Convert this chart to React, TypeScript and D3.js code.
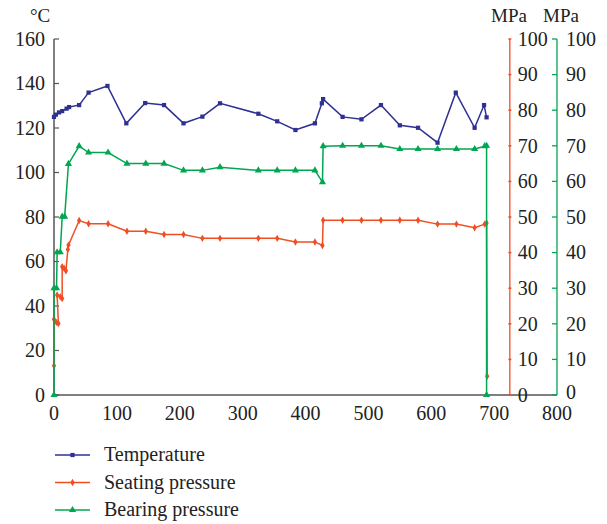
import React from 'react';
import * as d3 from 'd3';

// time axis values
const tempX = [0, 3, 8, 13, 20, 24, 40, 55, 85, 115, 145, 175, 206, 236, 264, 325, 355, 384, 415, 426, 428, 459, 489, 520, 550, 579, 610, 639, 669, 684, 688];
const tempY = [125, 126, 127, 127.6, 128.7, 129.4, 130.3, 135.9, 138.9, 122.1, 131.2, 130.3, 122.1, 125.1, 131.1, 126.4, 123, 119.1, 122.1, 131.1, 133, 125, 123.9, 130.3, 121.2, 120.1, 113.4, 135.9, 120.1, 130.3, 124.8];

const seatX = [0, 0, 4, 7, 5, 10, 13, 13, 16, 19, 22, 23, 40, 55, 86, 116, 146, 175, 206, 236, 264, 325, 355, 384, 415, 427, 428, 459, 489, 520, 550, 579, 610, 640, 669, 685, 688, 689];
const seatY = [8.2, 21.3, 20.4, 20.1, 28.1, 27.6, 27.1, 36.0, 35.6, 34.9, 40.9, 42.1, 49.0, 48.1, 48.1, 46.0, 46.0, 45.1, 45.1, 44.0, 44.0, 44.0, 44.0, 43.0, 43.0, 42.0, 49.1, 49.1, 49.1, 49.1, 49.1, 49.1, 48.0, 48.0, 47.0, 48.0, 48.3, 5.3];

const bearX = [0, 0, 4, 5, 10, 13, 17, 23, 40, 55, 86, 116, 146, 175, 206, 236, 264, 325, 355, 384, 415, 427, 428, 459, 489, 520, 550, 579, 610, 640, 669, 685, 688, 688];
const bearY = [0, 30, 30, 40.1, 40.1, 50.1, 50.1, 64.9, 69.9, 68.1, 68.1, 65, 65, 65, 63.1, 63.1, 64, 63.1, 63.1, 63.1, 63.1, 59.8, 69.9, 70, 70, 70, 69.1, 69.1, 69.1, 69.1, 69.1, 69.9, 70, 0];

const xTicks = [0, 100, 200, 300, 400, 500, 600, 700, 800];
const tempTicks = [0, 20, 40, 60, 80, 100, 120, 140, 160];
const mpaTicks = [0, 10, 20, 30, 40, 50, 60, 70, 80, 90, 100];
const redAxisAt = 725;

const BLUE = '#2e3192';
const RED = '#f04e23';
const GREEN = '#00a651';
const AXIS = '#555';
const FONT = "'Liberation Serif', 'Times New Roman', serif";

const App = () => {
  const x = d3.scaleLinear().domain([0, 800]).range([54, 557]);
  const yT = d3.scaleLinear().domain([0, 160]).range([395, 39]);
  const yP = d3.scaleLinear().domain([0, 100]).range([395, 39]);

  const line = d3.line<[number, number]>().x(d => d[0]).y(d => d[1]);

  const series = [
    { name: 'Temperature', color: BLUE, sym: d3.symbolSquare, size: 18, pts: tempX.map((v, i) => [x(v), yT(tempY[i])] as [number, number]) },
    { name: 'Seating pressure', color: RED, sym: d3.symbolDiamond, size: 16, pts: seatX.map((v, i) => [x(v), yP(seatY[i])] as [number, number]) },
    { name: 'Bearing pressure', color: GREEN, sym: d3.symbolTriangle, size: 22, pts: bearX.map((v, i) => [x(v), yP(bearY[i])] as [number, number]) },
  ];

  const [x0, x1] = x.range();
  const redX = x(redAxisAt);

  return (
    <svg width={607} height={524} style={{ position: 'absolute', left: 0, top: 0, background: '#fff' }}
      fontFamily={FONT} fontSize={20} fill="#222">
      {/* titles */}
      <text x={30} y={22} fontSize={19}>°C</text>
      <text x={491} y={22} fontSize={19}>MPa</text>
      <text x={543} y={22} fontSize={19}>MPa</text>

      {/* left axis */}
      <line x1={x0} x2={x0} y1={yT(160)} y2={yT(0)} stroke={AXIS} strokeWidth={1.5} />
      {tempTicks.map(t => (
        <g key={t}>
          <line x1={x0} x2={x0 + 5} y1={yT(t)} y2={yT(t)} stroke={AXIS} strokeWidth={1.2} />
          <text x={x0 - 9} y={yT(t)} dy="0.34em" textAnchor="end">{t}</text>
        </g>
      ))}

      {/* bottom axis */}
      <line x1={x0} x2={x1} y1={yT(0)} y2={yT(0)} stroke={AXIS} strokeWidth={1.5} />
      {xTicks.map(t => (
        <text key={t} x={x(t)} y={yT(0) + 25} textAnchor="middle">{t}</text>
      ))}

      {/* seating pressure axis */}
      <line x1={redX} x2={redX} y1={yP(100)} y2={yP(0)} stroke={RED} strokeWidth={1.3} />
      {mpaTicks.map(t => (
        <g key={t}>
          <line x1={redX - 1.5} x2={redX + 1.5} y1={yP(t)} y2={yP(t)} stroke={RED} strokeWidth={1.5} />
          <text x={redX + 8} y={yP(t)} dy="0.34em">{t}</text>
        </g>
      ))}

      {/* bearing pressure axis */}
      <line x1={x1} x2={x1} y1={yP(100)} y2={yP(0)} stroke={GREEN} strokeWidth={1.3} />
      {mpaTicks.map(t => (
        <g key={t}>
          <line x1={x1 - 5} x2={x1} y1={yP(t)} y2={yP(t)} stroke={GREEN} strokeWidth={1.3} />
          <text x={x1 + 9} y={yP(t)} dy={t === 0 ? '0.2em' : '0.34em'}>{t}</text>
        </g>
      ))}

      {/* series */}
      {series.map(s => (
        <g key={s.name}>
          <path d={line(s.pts) ?? ''} fill="none" stroke={s.color} strokeWidth={1.5} />
          {s.pts.map((p, i) => (
            <path key={i} d={d3.symbol().type(s.sym).size(s.size)() ?? ''}
              transform={`translate(${p[0]},${p[1]})`} fill={s.color} />
          ))}
        </g>
      ))}

      {/* legend */}
      {series.map((s, i) => {
        const ly = 455 + i * 27.5;
        return (
          <g key={s.name}>
            <line x1={55} x2={90} y1={ly} y2={ly} stroke={s.color} strokeWidth={1.5} />
            <path d={d3.symbol().type(s.sym).size(s.size)() ?? ''} transform={`translate(72.5,${ly})`} fill={s.color} />
            <text x={104} y={ly} dy="0.32em">{s.name}</text>
          </g>
        );
      })}
    </svg>
  );
};

export default App;
